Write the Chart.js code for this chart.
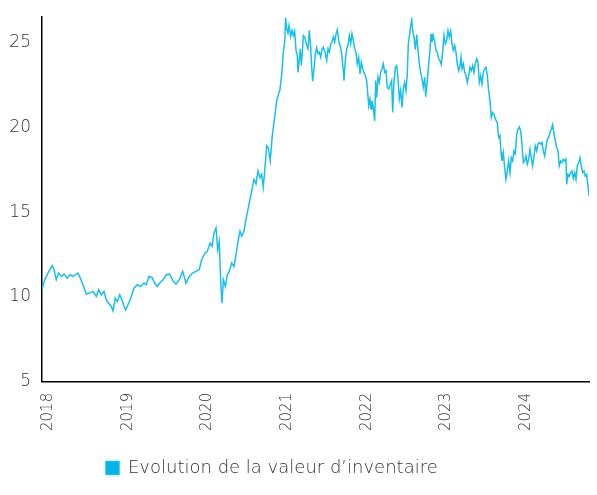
<!DOCTYPE html>
<html>
<head>
<meta charset="utf-8">
<script src="https://cdn.jsdelivr.net/npm/chart.js@4.4.1/dist/chart.umd.min.js"></script>
<style>
html, body { margin: 0; padding: 0; background: #fff; }
#wrap { width: 597px; height: 495px; }
</style>
</head>
<body>
<div id="wrap"><canvas id="myChart" width="597" height="495"></canvas></div>
<script>
// dates as decimal years
var dates = [
  2017.925, 2017.959, 2018.000, 2018.034, 2018.054, 2018.075, 2018.104, 2018.134, 2018.167, 2018.201,
  2018.242, 2018.276, 2018.314, 2018.343, 2018.376, 2018.398, 2018.439, 2018.481, 2018.523, 2018.565,
  2018.606, 2018.636, 2018.669, 2018.703, 2018.731, 2018.762, 2018.794, 2018.816, 2018.844, 2018.870,
  2018.900, 2018.928, 2018.954, 2018.975, 2019.004, 2019.038, 2019.079, 2019.120, 2019.163, 2019.205,
  2019.233, 2019.267, 2019.305, 2019.339, 2019.371, 2019.401, 2019.443, 2019.484, 2019.527, 2019.572,
  2019.606, 2019.647, 2019.690, 2019.732, 2019.773, 2019.816, 2019.857, 2019.898, 2019.928, 2019.970,
  2019.999, 2020.033, 2020.058, 2020.083, 2020.108, 2020.129, 2020.149, 2020.167, 2020.183, 2020.200,
  2020.225, 2020.250, 2020.275, 2020.305, 2020.334, 2020.359, 2020.388, 2020.409, 2020.430, 2020.459,
  2020.484, 2020.513, 2020.535, 2020.556, 2020.585, 2020.610, 2020.635, 2020.660, 2020.681, 2020.701,
  2020.723, 2020.744, 2020.764, 2020.789, 2020.814, 2020.839, 2020.870, 2020.895, 2020.911, 2020.932,
  2020.952, 2020.970, 2020.982, 2020.995, 2021.011, 2021.024, 2021.045, 2021.061, 2021.078, 2021.095,
  2021.112, 2021.128, 2021.137, 2021.153, 2021.166, 2021.178, 2021.191, 2021.203, 2021.221, 2021.246,
  2021.262, 2021.279, 2021.296, 2021.309, 2021.321, 2021.338, 2021.354, 2021.371, 2021.388, 2021.404,
  2021.422, 2021.438, 2021.454, 2021.476, 2021.497, 2021.513, 2021.530, 2021.547, 2021.563, 2021.580,
  2021.597, 2021.614, 2021.630, 2021.642, 2021.655, 2021.672, 2021.689, 2021.705, 2021.714, 2021.730,
  2021.748, 2021.764, 2021.781, 2021.798, 2021.814, 2021.831, 2021.848, 2021.864, 2021.881, 2021.898,
  2021.915, 2021.931, 2021.949, 2021.965, 2021.981, 2021.999, 2022.011, 2022.024, 2022.040, 2022.053,
  2022.065, 2022.082, 2022.099, 2022.112, 2022.124, 2022.141, 2022.157, 2022.174, 2022.191, 2022.207,
  2022.225, 2022.241, 2022.257, 2022.275, 2022.312, 2022.325, 2022.341, 2022.358, 2022.375, 2022.391,
  2022.408, 2022.425, 2022.442, 2022.458, 2022.475, 2022.492, 2022.508, 2022.521, 2022.533, 2022.551,
  2022.563, 2022.576, 2022.592, 2022.609, 2022.626, 2022.642, 2022.659, 2022.676, 2022.693, 2022.709,
  2022.727, 2022.739, 2022.759, 2022.777, 2022.793, 2022.806, 2022.818, 2022.834, 2022.852, 2022.868,
  2022.885, 2022.902, 2022.918, 2022.935, 2022.952, 2022.969, 2022.985, 2023.003, 2023.019, 2023.035,
  2023.053, 2023.069, 2023.085, 2023.103, 2023.119, 2023.135, 2023.153, 2023.169, 2023.182, 2023.194,
  2023.211, 2023.228, 2023.245, 2023.261, 2023.279, 2023.295, 2023.311, 2023.329, 2023.345, 2023.361,
  2023.379, 2023.395, 2023.412, 2023.429, 2023.445, 2023.462, 2023.479, 2023.496, 2023.512, 2023.529,
  2023.546, 2023.562, 2023.580, 2023.596, 2023.612, 2023.637, 2023.655, 2023.671, 2023.684, 2023.696,
  2023.713, 2023.730, 2023.746, 2023.763, 2023.780, 2023.797, 2023.813, 2023.830, 2023.847, 2023.863,
  2023.881, 2023.897, 2023.913, 2023.931, 2023.947, 2023.964, 2023.981, 2023.997, 2024.014, 2024.031,
  2024.048, 2024.064, 2024.081, 2024.098, 2024.114, 2024.132, 2024.148, 2024.164, 2024.182, 2024.198,
  2024.215, 2024.232, 2024.248, 2024.265, 2024.282, 2024.299, 2024.315, 2024.332, 2024.349, 2024.365,
  2024.383, 2024.399, 2024.415, 2024.433, 2024.449, 2024.466, 2024.483, 2024.499, 2024.508, 2024.524,
  2024.541, 2024.558, 2024.575, 2024.591, 2024.608, 2024.625, 2024.641, 2024.659, 2024.675, 2024.691,
  2024.709, 2024.725, 2024.741, 2024.759, 2024.775, 2024.788
];

var nav = [
  10.43, 11.02, 11.41, 11.70, 11.85, 11.61, 11.02, 11.41, 11.21, 11.35,
  11.11, 11.31, 11.21, 11.31, 11.41, 11.21, 10.72, 10.17, 10.23, 10.33,
  10.03, 10.43, 10.13, 10.33, 9.83, 9.63, 9.44, 9.18, 9.93, 9.73,
  10.13, 9.83, 9.44, 9.24, 9.54, 9.93, 10.52, 10.72, 10.62, 10.82,
  10.72, 11.21, 11.15, 10.82, 10.62, 10.82, 11.02, 11.31, 11.35, 10.92,
  10.76, 11.02, 11.51, 10.82, 11.21, 11.41, 11.51, 11.61, 12.20, 12.59,
  12.69, 13.18, 12.99, 13.78, 14.07, 12.79, 13.28, 10.92, 9.63, 11.02,
  10.62, 11.31, 11.51, 12.00, 11.80, 12.50, 13.38, 13.88, 13.58, 13.88,
  14.57, 15.25, 15.75, 16.24, 16.93, 16.67, 17.43, 17.03, 17.23, 16.48,
  17.62, 18.91, 18.81, 18.02, 19.50, 20.40, 21.57, 22.00, 22.23, 23.08,
  24.40, 25.02, 26.46, 25.81, 25.55, 26.00, 25.35, 25.71, 25.41, 25.67,
  24.53, 24.23, 23.24, 24.03, 24.63, 23.64, 24.33, 25.41, 25.32, 24.82,
  24.63, 25.71, 24.72, 23.54, 22.71, 23.44, 24.33, 24.69, 24.33, 24.43,
  24.13, 24.63, 24.72, 24.43, 23.93, 24.63, 24.43, 24.92, 25.02, 25.32,
  25.02, 25.51, 25.75, 25.32, 24.92, 24.72, 24.13, 23.34, 22.75, 23.93,
  24.63, 24.82, 25.41, 24.92, 25.51, 25.12, 24.63, 24.43, 23.74, 24.13,
  23.15, 23.84, 23.44, 23.24, 23.05, 22.75, 22.06, 21.27, 21.67, 21.08,
  21.57, 21.17, 20.38, 22.75, 21.76, 22.95, 22.65, 23.24, 23.44, 23.74,
  23.24, 23.34, 22.36, 22.26, 22.75, 20.88, 22.65, 23.54, 23.64, 22.95,
  21.67, 22.16, 21.17, 22.26, 22.65, 22.16, 23.15, 24.92, 25.32, 26.01,
  26.34, 25.71, 25.32, 24.57, 25.47, 24.53, 23.74, 23.24, 22.85, 22.36,
  22.95, 21.80, 22.75, 23.74, 24.53, 25.51, 25.02, 25.41, 25.02, 24.53,
  24.43, 24.03, 23.93, 23.70, 24.43, 25.41, 24.92, 25.12, 25.71, 25.32,
  25.67, 24.92, 24.53, 24.82, 24.43, 23.74, 23.34, 23.64, 24.13, 23.44,
  23.74, 23.24, 23.05, 22.65, 23.05, 23.54, 23.34, 23.64, 23.24, 23.74,
  24.03, 23.84, 22.65, 23.05, 22.56, 23.24, 23.44, 23.54, 23.05, 22.16,
  21.57, 20.58, 20.88, 20.78, 20.49, 20.28, 19.40, 19.50, 18.51, 18.02,
  18.51, 17.62, 16.93, 17.43, 18.02, 17.33, 18.21, 18.02, 18.61, 18.45,
  19.60, 19.89, 20.03, 19.79, 19.01, 17.92, 18.02, 18.31, 17.82, 18.12,
  18.71, 18.21, 17.72, 18.31, 18.91, 18.61, 19.01, 19.10, 19.01, 19.10,
  18.61, 18.31, 18.81, 19.30, 19.40, 19.69, 19.89, 20.15, 19.60, 19.20,
  18.81, 18.61, 17.72, 18.02, 17.92, 18.12, 18.02, 18.12, 16.64, 17.23,
  17.13, 17.33, 17.43, 17.00, 17.33, 16.93, 17.72, 17.92, 18.21, 17.72,
  17.33, 17.43, 17.13, 17.23, 16.54, 15.95
];

var yearTicks = [2018, 2019, 2020, 2021, 2022, 2023, 2024];
var valueTicks = [5, 10, 15, 20, 25];

var seriesName = "Evolution de la valeur d\u2019inventaire";
var lineColor = '#19bfea';
var boxColor = '#00b4e4';
var textColor = '#333333';
var fontFamily = "'DejaVu Sans', sans-serif";

var points = [];
for (var i = 0; i < dates.length; i++) {
    points.push({ x: dates[i], y: nav[i] });
}

// move the legend so that it starts where the reference one does
var legendShift = {
    id: 'legendShift',
    afterLayout: function (chart) {
        var lg = chart.legend;
        var w = lg.right - lg.left;
        lg.left = 96;
        lg.right = 96 + w;
    }
};

var ctx = document.getElementById("myChart");
var myChart = new Chart(ctx, {
    type: 'line',
    data: {
        datasets: [{
            label: seriesName,
            data: points,
            borderColor: lineColor,
            backgroundColor: boxColor,
            borderWidth: 1.5,
            pointRadius: 0,
            tension: 0
        }]
    },
    options: {
        responsive: false,
        animation: false,
        layout: {
            padding: { top: 17, right: 8, left: 0, bottom: 8 }
        },
        plugins: {
            tooltip: { enabled: false },
            legend: {
                display: true,
                position: 'bottom',
                align: 'start',
                labels: {
                    boxWidth: 13,
                    boxHeight: 13,
                    color: textColor,
                    padding: 10,
                    font: { family: fontFamily, size: 18, weight: '200' }
                }
            }
        },
        scales: {
            x: {
                type: 'linear',
                min: dates[0],
                max: dates[dates.length - 1],
                grid: { display: false },
                border: { display: true, color: '#000', width: 1.5 },
                afterBuildTicks: function (scale) {
                    scale.ticks = yearTicks.map(function (v) { return { value: v }; });
                },
                afterFit: function (scale) {
                    scale.height += 15;
                },
                ticks: {
                    autoSkip: false,
                    minRotation: 90,
                    maxRotation: 90,
                    padding: 3,
                    color: textColor,
                    font: { family: fontFamily, size: 15, weight: '200' },
                    callback: function (v) { return String(v); }
                }
            },
            y: {
                min: 5,
                max: 26.5,
                grid: { display: false },
                border: { display: true, color: '#000', width: 1.5 },
                afterBuildTicks: function (scale) {
                    scale.ticks = valueTicks.map(function (v) { return { value: v }; });
                },
                afterFit: function (scale) {
                    scale.width = 42;
                },
                ticks: {
                    padding: 3,
                    color: textColor,
                    font: { family: fontFamily, size: 17, weight: '200' }
                }
            }
        }
    },
    plugins: [legendShift]
});
</script>
</body>
</html>
